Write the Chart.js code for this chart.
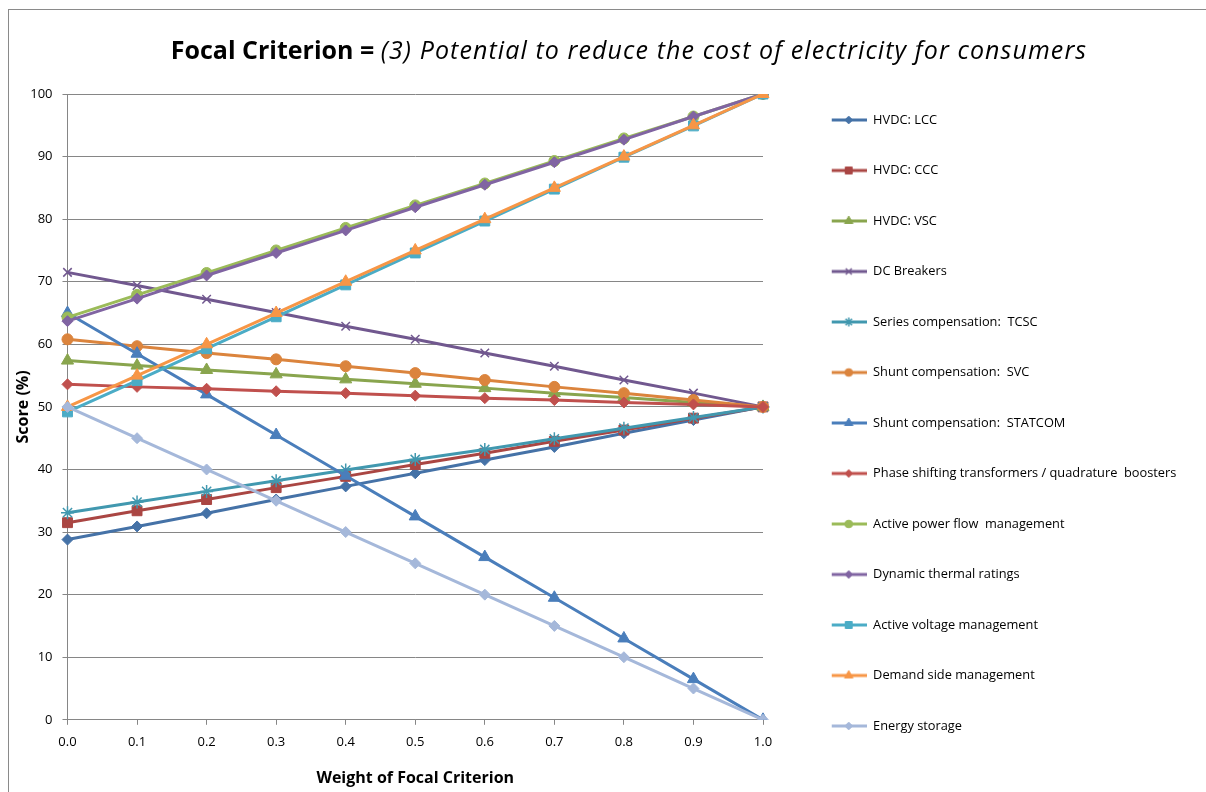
<!DOCTYPE html>
<html>
<head>
<meta charset="utf-8">
<script src="https://cdn.jsdelivr.net/npm/chart.js@4"></script>
<style>
  html, body { margin: 0; padding: 0; background: #fff; }
  #frame { position: absolute; left: 8px; top: 9px; width: 1300px; height: 900px;
           border-left: 1px solid #8a8a8a; border-top: 1px solid #8a8a8a; }
  #wrap { position: absolute; left: 0; top: 0; width: 1206px; height: 792px; }
</style>
</head>
<body>
<div id="frame"></div>
<div id="wrap"><canvas id="focalChart" width="1206" height="792"></canvas></div>
<script>
const weights = ['0.0', '0.1', '0.2', '0.3', '0.4', '0.5', '0.6', '0.7', '0.8', '0.9', '1.0'];

const hvdcLcc        = [28.8, 30.9, 33.0, 35.2, 37.3, 39.4, 41.5, 43.6, 45.8, 47.9, 50];
const hvdcCcc        = [31.5, 33.4, 35.2, 37.1, 38.9, 40.8, 42.6, 44.5, 46.3, 48.2, 50];
const hvdcVsc        = [57.4, 56.6, 55.9, 55.2, 54.4, 53.7, 53.0, 52.2, 51.5, 50.7, 50];
const dcBreakers     = [71.5, 69.4, 67.2, 65.1, 62.9, 60.8, 58.6, 56.5, 54.3, 52.2, 50];
const seriesTcsc     = [33.1, 34.8, 36.5, 38.2, 39.9, 41.6, 43.2, 44.9, 46.6, 48.3, 50];
const shuntSvc       = [60.8, 59.7, 58.6, 57.6, 56.5, 55.4, 54.3, 53.2, 52.2, 51.1, 50];
const shuntStatcom   = [65.0, 58.5, 52.0, 45.5, 39.0, 32.5, 26.0, 19.5, 13.0, 6.5, 0];
const phaseShifting  = [53.6, 53.2, 52.9, 52.5, 52.2, 51.8, 51.4, 51.1, 50.7, 50.4, 50];
const activePowerFlow = [64.3, 67.9, 71.4, 75.0, 78.6, 82.2, 85.7, 89.3, 92.9, 96.4, 100];
const dynamicThermal = [63.7, 67.3, 71.0, 74.6, 78.2, 81.9, 85.5, 89.1, 92.7, 96.4, 100];
const activeVoltage  = [49.2, 54.2, 59.3, 64.4, 69.5, 74.6, 79.7, 84.8, 89.9, 94.9, 100];
const demandSide     = [50, 55, 60, 65, 70, 75, 80, 85, 90, 95, 100];
const energyStorage  = [50, 45, 40, 35, 30, 25, 20, 15, 10, 5, 0];

const yTicks = [0, 10, 20, 30, 40, 50, 60, 70, 80, 90, 100];

const titleBold = 'Focal Criterion = ';
const titleItalic = '(3) Potential to reduce the cost of electricity for consumers';
const FONT = '"Open Sans", "Noto Sans", sans-serif';
const LEGEND_SIZE = 12.8;

const series = [
  { label: 'HVDC: LCC', data: hvdcLcc, color: '#4572A7', style: 'rectRot', r: 5.5 },
  { label: 'HVDC: CCC', data: hvdcCcc, color: '#AA4643', style: 'rect', r: 7 },
  { label: 'HVDC: VSC', data: hvdcVsc, color: '#89A54E', style: 'triangle', r: 7 },
  { label: 'DC Breakers', data: dcBreakers, color: '#71588F', style: 'crossRot', r: 6 },
  { label: 'Series compensation:  TCSC', data: seriesTcsc, color: '#4198AF', style: 'star', r: 6.5 },
  { label: 'Shunt compensation:  SVC', data: shuntSvc, color: '#DB843D', style: 'circle', r: 5.5 },
  { label: 'Shunt compensation:  STATCOM', data: shuntStatcom, color: '#4A7EBB', style: 'triangle', r: 7 },
  { label: 'Phase shifting transformers / quadrature  boosters', data: phaseShifting, color: '#C0504D', style: 'rectRot', r: 5.5 },
  { label: 'Active power flow  management', data: activePowerFlow, color: '#9BBB59', style: 'circle', r: 5.5 },
  { label: 'Dynamic thermal ratings', data: dynamicThermal, color: '#8064A2', style: 'rectRot', r: 5.5 },
  { label: 'Active voltage management', data: activeVoltage, color: '#4BACC6', style: 'rect', r: 7 },
  { label: 'Demand side management', data: demandSide, color: '#F79646', style: 'triangle', r: 7 },
  { label: 'Energy storage', data: energyStorage, color: '#A5B8DA', style: 'rectRot', r: 5.5 }
];

// legend icon: line with marker, left part left blank as gap to the plot
function legendIcon(s) {
  const c = document.createElement('canvas');
  c.width = 66; c.height = 14;
  const g = c.getContext('2d');
  g.strokeStyle = s.color;
  g.fillStyle = s.color;
  g.lineWidth = 3;
  g.beginPath();
  g.moveTo(31, 7);
  g.lineTo(66, 7);
  g.stroke();
  g.lineWidth = (s.style === 'crossRot' || s.style === 'star') ? 1.5 : 1;
  Chart.helpers.drawPoint(g, { pointStyle: s.style, radius: s.r * 0.7, rotation: 0, borderWidth: g.lineWidth }, 48, 7);
  return c;
}

const mixedTitle = {
  id: 'mixedTitle',
  afterDraw(chart) {
    const ctx = chart.ctx;
    ctx.save();
    ctx.textBaseline = 'middle';
    ctx.fillStyle = '#000';
    ctx.font = 'bold 25px ' + FONT;
    ctx.letterSpacing = '0px';
    const w1 = ctx.measureText(titleBold).width;
    ctx.font = 'italic 25px ' + FONT;
    ctx.letterSpacing = '1.1px';
    const w2 = ctx.measureText(titleItalic).width;
    const x = 629 - (w1 + w2) / 2;
    ctx.fillText(titleItalic, x + w1, 52);
    ctx.font = 'bold 25px ' + FONT;
    ctx.letterSpacing = '0px';
    ctx.fillText(titleBold, x, 52);
    ctx.restore();
  }
};

// room on the right so the plot ends where the legend starts
const mctx = document.createElement('canvas').getContext('2d');
mctx.font = LEGEND_SIZE + 'px ' + FONT;
const widest = Math.max(...series.map(s => mctx.measureText(s.label).width));
const rightPad = Math.max(0, 1206 - 763 - (37.7 + 66 + LEGEND_SIZE / 2 + widest) - 10);

const ctx = document.getElementById('focalChart').getContext('2d');
const chart = new Chart(ctx, {
  type: 'line',
  data: {
    labels: weights,
    datasets: series.map((s, i) => ({
      label: s.label,
      data: s.data,
      borderColor: s.color,
      backgroundColor: s.color,
      borderWidth: 3,
      pointStyle: s.style,
      pointRadius: s.r,
      pointBorderWidth: (s.style === 'crossRot' || s.style === 'star') ? 1.5 : 1,
      pointBorderColor: s.color,
      pointBackgroundColor: s.color,
      tension: 0,
      order: -i
    }))
  },
  options: {
    responsive: false,
    animation: false,
    layout: { padding: { top: 58, bottom: 4, left: 12, right: rightPad } },
    plugins: {
      title: {
        display: true,
        text: '',
        font: { size: 10, lineHeight: 1 },
        padding: { top: 0, bottom: 26 }
      },
      tooltip: { enabled: false },
      legend: {
        position: 'right',
        align: 'center',
        maxWidth: 520,
        labels: {
          usePointStyle: true,
          pointStyleWidth: 66,
          boxHeight: LEGEND_SIZE,
          padding: 37.7,
          color: '#000',
          font: { family: FONT, size: LEGEND_SIZE },
          generateLabels: (ch) => ch.data.datasets.map((ds, i) => ({
            text: ds.label,
            pointStyle: legendIcon(series[i]),
            datasetIndex: i,
            hidden: false,
            lineWidth: 0,
            fillStyle: 'transparent',
            strokeStyle: 'transparent'
          }))
        }
      }
    },
    scales: {
      x: {
        grid: { drawOnChartArea: false, drawTicks: true, tickLength: 5, tickColor: '#868686' },
        border: { color: '#868686', width: 1 },
        ticks: { color: '#000', padding: 10, maxRotation: 0, font: { family: FONT, size: 13 } },
        title: {
          display: true,
          text: 'Weight of Focal Criterion',
          color: '#000',
          font: { family: FONT, size: 16, weight: 'bold' },
          padding: { top: 8.4, bottom: 0 }
        }
      },
      y: {
        min: 0,
        max: 100,
        afterBuildTicks: (axis) => { axis.ticks = yTicks.map(v => ({ value: v })); },
        grid: { color: '#868686', tickLength: 5, tickColor: '#868686' },
        border: { color: '#868686', width: 1 },
        ticks: { color: '#000', padding: 10, font: { family: FONT, size: 13 } },
        title: {
          display: true,
          text: 'Score (%)',
          color: '#000',
          font: { family: FONT, size: 16, weight: 'bold' },
          padding: { top: 1.5, bottom: -12.5 }
        }
      }
    }
  },
  plugins: [mixedTitle]
});
</script>
</body>
</html>
